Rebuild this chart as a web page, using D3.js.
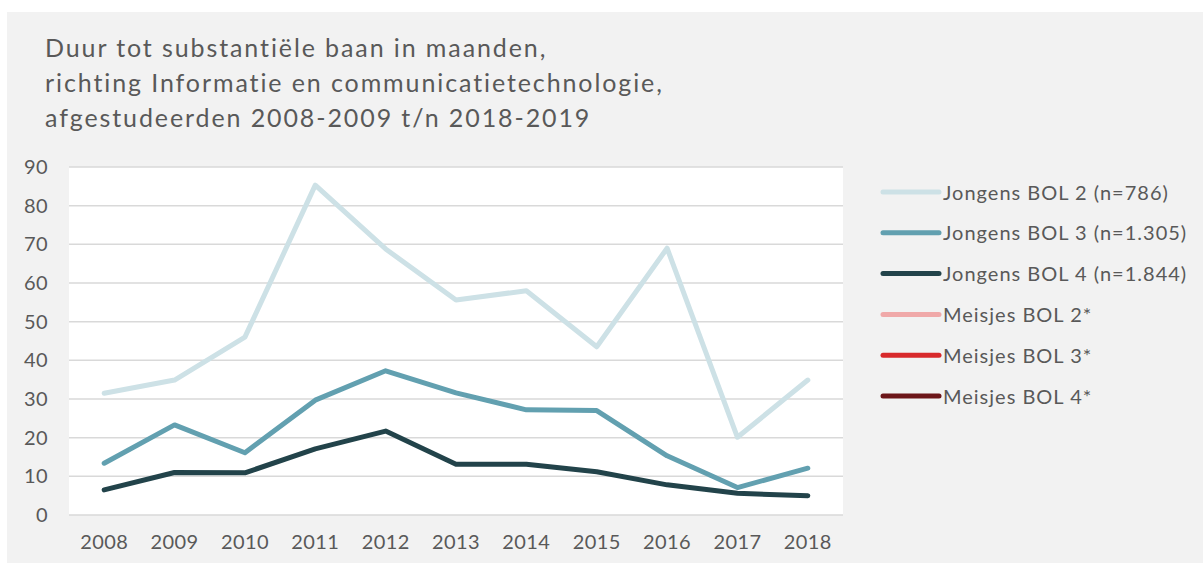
<!DOCTYPE html>
<html>
<head>
<meta charset="utf-8">
<script src="https://cdn.jsdelivr.net/npm/d3@7"></script>
<style>
  body { margin: 0; background: #fff; }
  text { font-family: Lato, "Open Sans", sans-serif; fill: #595959; }
</style>
</head>
<body>
<svg id="chart" width="1203" height="563"></svg>
<script>
// data
const years = ['2008','2009','2010','2011','2012','2013','2014','2015','2016','2017','2018'];
const jongensBol2 = [31.5, 34.9, 46.0, 85.3, 68.8, 55.6, 58.0, 43.5, 69.0, 20.1, 34.9];
const jongensBol3 = [13.4, 23.3, 16.1, 29.7, 37.3, 31.6, 27.2, 27.0, 15.3, 7.1, 12.1];
const jongensBol4 = [6.5, 11.0, 10.9, 17.1, 21.7, 13.1, 13.1, 11.2, 7.8, 5.6, 5.0];
// meisjes: no values shown (* too few)
const meisjesBol2 = [];
const meisjesBol3 = [];
const meisjesBol4 = [];
const seriesNames = ['Jongens BOL 2 (n=786)', 'Jongens BOL 3 (n=1.305)', 'Jongens BOL 4 (n=1.844)',
                     'Meisjes BOL 2*', 'Meisjes BOL 3*', 'Meisjes BOL 4*'];
const yTicks = [0, 10, 20, 30, 40, 50, 60, 70, 80, 90];
const titleLines = ['Duur tot substantiële baan in maanden,',
                    'richting Informatie en communicatietechnologie,',
                    'afgestudeerden 2008-2009 t/n 2018-2019'];

const colors = ['#cde1e6', '#62a0b0', '#22434a', '#f0a9a9', '#d8292b', '#6c1619'];
const series = [jongensBol2, jongensBol3, jongensBol4, meisjesBol2, meisjesBol3, meisjesBol4];

const svg = d3.select('#chart');

// background panel
svg.append('rect')
    .attr('x', 7).attr('y', 12)
    .attr('width', 1196).attr('height', 551)
    .attr('fill', '#f2f2f2');

// title
svg.append('g').selectAll('text')
    .data(titleLines)
    .join('text')
    .attr('x', 45)
    .attr('y', (d, i) => 57 + i * 35)
    .attr('font-size', 25)
    .attr('letter-spacing', 1.9)
    .text(d => d);

const plot = {left: 69, right: 843, top: 167, bottom: 515};

const x = d3.scaleBand().domain(years).range([plot.left, plot.right]);
const y = d3.scaleLinear().domain([0, 90]).range([plot.bottom, plot.top]);

svg.append('rect')
    .attr('x', plot.left).attr('y', plot.top)
    .attr('width', plot.right - plot.left).attr('height', plot.bottom - plot.top)
    .attr('fill', '#fff');

// gridlines
svg.append('g').selectAll('line')
    .data(yTicks)
    .join('line')
    .attr('x1', plot.left).attr('x2', plot.right)
    .attr('y1', d => y(d)).attr('y2', d => y(d))
    .attr('stroke', '#d9d9d9')
    .attr('stroke-width', 1.5);

// y axis labels
const yAxis = svg.append('g')
    .attr('transform', `translate(${plot.left - 21},0)`)
    .call(d3.axisLeft(y).tickValues(yTicks).tickSize(0).tickPadding(0));
yAxis.select('.domain').remove();
yAxis.selectAll('text')
    .attr('font-size', 20)
    .attr('letter-spacing', 0.4)
    .attr('fill', '#595959')
    .style('font-family', 'Lato, sans-serif');

// x axis labels
const xAxis = svg.append('g')
    .attr('transform', `translate(0,${plot.bottom})`)
    .call(d3.axisBottom(x).tickSize(0).tickPadding(20));
xAxis.select('.domain').remove();
xAxis.selectAll('text')
    .attr('font-size', 20)
    .attr('letter-spacing', 0.4)
    .attr('fill', '#595959')
    .style('font-family', 'Lato, sans-serif');

// lines
const line = d3.line()
    .x((d, i) => x(years[i]) + x.bandwidth() / 2)
    .y(d => y(d));

svg.append('g').selectAll('path')
    .data(series.map((s, i) => ({values: s, color: colors[i]})).filter(d => d.values.length))
    .join('path')
    .attr('d', d => line(d.values))
    .attr('fill', 'none')
    .attr('stroke', d => d.color)
    .attr('stroke-width', 5)
    .attr('stroke-linecap', 'round')
    .attr('stroke-linejoin', 'round');

// legend
const legend = svg.append('g').selectAll('g')
    .data(seriesNames)
    .join('g')
    .attr('transform', (d, i) => `translate(883,${192 + i * 40.8})`);

legend.append('line')
    .attr('x1', 0).attr('x2', 56)
    .attr('stroke', (d, i) => colors[i])
    .attr('stroke-width', 5)
    .attr('stroke-linecap', 'round');

legend.append('text')
    .attr('x', 60)
    .attr('y', 7.5)
    .attr('font-size', 20)
    .attr('letter-spacing', 1)
    .text(d => d);
</script>
</body>
</html>
